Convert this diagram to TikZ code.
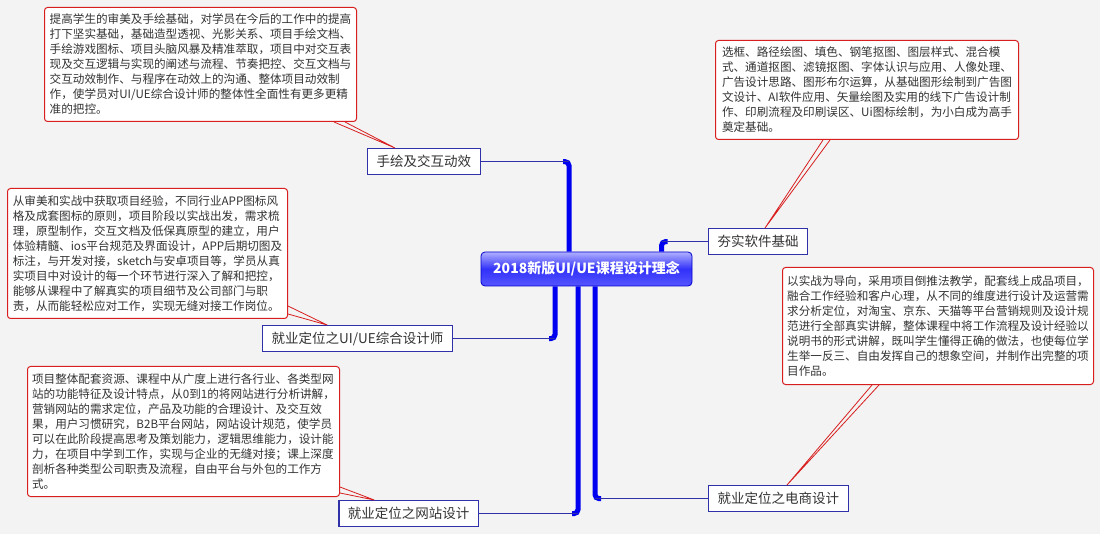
\documentclass[tikz,border=0pt]{standalone}
\usepackage{fontspec}
\setmainfont{Noto Sans CJK SC}
\usepackage{tikz}
\usetikzlibrary{positioning, calc}

\definecolor{bggray}{HTML}{F3F3F3}
\definecolor{txtgray}{HTML}{333333}
\definecolor{noteRed}{HTML}{D81E1E}
\definecolor{topicBlue}{HTML}{3030A8}
\definecolor{trunkBlue}{HTML}{0000F0}

\begin{document}
\begin{tikzpicture}[
    x=1pt, y=-1pt,
    root_node/.style={rectangle, rounded corners=4pt, draw=trunkBlue!85!black, line width=0.8pt,
        top color={rgb,255:red,175;green,175;blue,255}, bottom color={rgb,255:red,85;green,85;blue,255},
        middle color={rgb,255:red,50;green,50;blue,250}, text=white,
        font=\bfseries\fontsize{14}{16}\selectfont, minimum width=211pt, minimum height=34pt},
    topic_node/.style={rectangle, draw=topicBlue, line width=1.2pt, fill=white, text=txtgray,
        font=\fontsize{13.5}{15}\selectfont, minimum height=26pt, inner xsep=9pt},
    note_node/.style={rectangle, rounded corners=3pt, draw=noteRed, line width=1pt, fill=white,
        text=txtgray, align=left, font=\fontsize{11.6}{15}\selectfont, inner ysep=3pt, anchor=north west},
    trunk/.style={draw=trunkBlue, line width=5pt, rounded corners=4pt},
    branch/.style={draw=topicBlue, line width=1.2pt},
    note_tail/.style={draw=noteRed, line width=0.8pt}
    ]
    \fill[bggray] (0,0) rectangle (1100,534);
    \useasboundingbox (0,0) rectangle (1100,534);

    % Nodes
    \node[root_node] (root) at (586.5,269) {2018新版UI/UE课程设计理念};
    \node[topic_node, anchor=north west] (hand) at (367,148) {手绘及交互动效};
    \node[topic_node, anchor=north west] (soft) at (708,228) {夯实软件基础};
    \node[topic_node, anchor=north east] (ui) at (453,325) {就业定位之UI/UE综合设计师};
    \node[topic_node, anchor=north east] (web) at (479,500) {就业定位之网站设计};
    \node[topic_node, anchor=north west] (shop) at (708,485) {就业定位之电商设计};

    % Notes
    \node[note_node, minimum width=312pt, minimum height=114pt] (handnote) at (44,7) {%
        提高学生的审美及手绘基础，对学员在今后的工作中的提高\\
        打下坚实基础，基础造型透视、光影关系、项目手绘文档、\\
        手绘游戏图标、项目头脑风暴及精准萃取，项目中对交互表\\
        现及交互逻辑与实现的阐述与流程、节奏把控、交互文档与\\
        交互动效制作、与程序在动效上的沟通、整体项目动效制\\
        作，使学员对UI/UE综合设计师的整体性全面性有更多更精\\
        准的把控。};
    \node[note_node, minimum width=303pt, minimum height=99pt] (softnote) at (715,40) {%
        选框、路径绘图、填色、钢笔抠图、图层样式、混合模\\
        式、通道抠图、滤镜抠图、字体认识与应用、人像处理、\\
        广告设计思路、图形布尔运算，从基础图形绘制到广告图\\
        文设计、AI软件应用、矢量绘图及实用的线下广告设计制\\
        作、印刷流程及印刷误区、Ui图标绘制，为小白成为高手\\
        奠定基础。};
    \node[note_node, minimum width=280pt, minimum height=130pt] (uinote) at (7,188) {%
        从审美和实战中获取项目经验，不同行业APP图标风\\
        格及成套图标的原则，项目阶段以实战出发，需求梳\\
        理，原型制作，交互文档及低保真原型的建立，用户\\
        体验精髓、ios平台规范及界面设计，APP后期切图及\\
        标注，与开发对接，sketch与安卓项目等，学员从真\\
        实项目中对设计的每一个环节进行深入了解和把控，\\
        能够从课程中了解真实的项目细节及公司部门与职\\
        责，从而能轻松应对工作，实现无缝对接工作岗位。};
    \node[note_node, minimum width=311pt, minimum height=117pt] (shopnote) at (782,267) {%
        以实战为导向，采用项目倒推法教学，配套线上成品项目，\\
        融合工作经验和客户心理，从不同的维度进行设计及运营需\\
        求分析定位，对淘宝、京东、天猫等平台营销规则及设计规\\
        范进行全部真实讲解，整体课程中将工作流程及设计经验以\\
        说明书的形式讲解，既叫学生懂得正确的做法，也使每位学\\
        生举一反三、自由发挥自己的想象空间，并制作出完整的项\\
        目作品。};
    \node[note_node, minimum width=312pt, minimum height=130pt] (webnote) at (27,366) {%
        项目整体配套资源、课程中从广度上进行各行业、各类型网\\
        站的功能特征及设计特点，从0到1的将网站进行分析讲解，\\
        营销网站的需求定位，产品及功能的合理设计、及交互效\\
        果，用户习惯研究，B2B平台网站，网站设计规范，使学员\\
        可以在此阶段提高思考及策划能力，逻辑思维能力，设计能\\
        力，在项目中学到工作，实现与企业的无缝对接；课上深度\\
        剖析各种类型公司职责及流程，自由平台与外包的工作方\\
        式。};

    % Connectors
    \coordinate (j_hand) at ([xshift=-17.5pt]root.north);
    \coordinate (j_soft) at ([xshift=75pt]root.north);
    \coordinate (j_ui) at ([xshift=-31.5pt]root.south);
    \coordinate (j_web) at ([xshift=-8.5pt]root.south);
    \coordinate (j_shop) at ([xshift=8.5pt]root.south);

    \draw[trunk] (j_hand) |- ($(j_hand |- hand.east)+(-6,0)$);
    \draw[branch] (j_hand |- hand.east) -- (hand.east);
    \draw[trunk] (j_soft) |- ($(j_soft |- soft.west)+(6,0)$);
    \draw[branch] (j_soft |- soft.west) -- (soft.west);
    \draw[trunk] (j_ui) |- ($(j_ui |- ui.east)+(-6,0)$);
    \draw[branch] (j_ui |- ui.east) -- (ui.east);
    \draw[trunk] (j_web) |- ($(j_web |- web.east)+(-6,0)$);
    \draw[branch] (j_web |- web.east) -- (web.east);
    \draw[trunk] (j_shop) |- ($(j_shop |- shop.west)+(6,0)$);
    \draw[branch] (j_shop |- shop.west) -- (shop.west);

    % Note tails
    \draw[note_tail] ([xshift=-23pt]handnote.south east) -- ([xshift=28pt]hand.north west) -- ([xshift=-12pt]handnote.south east);
    \draw[note_tail] ([xshift=108pt]softnote.south west) -- ([xshift=57pt]soft.north west) -- ([xshift=115pt]softnote.south west);
    \draw[note_tail] ([yshift=13pt]uinote.south east) -- ([xshift=65pt]ui.north west) -- ([yshift=5pt]uinote.south east);
    \draw[note_tail] ([xshift=90pt]shopnote.south west) -- ([xshift=79pt]shop.north west) -- ([xshift=97pt]shopnote.south west);
    \draw[note_tail] ([yshift=10pt]webnote.south east) -- ([xshift=36pt]web.north west) -- ([yshift=4pt]webnote.south east);
\end{tikzpicture}
\end{document}
